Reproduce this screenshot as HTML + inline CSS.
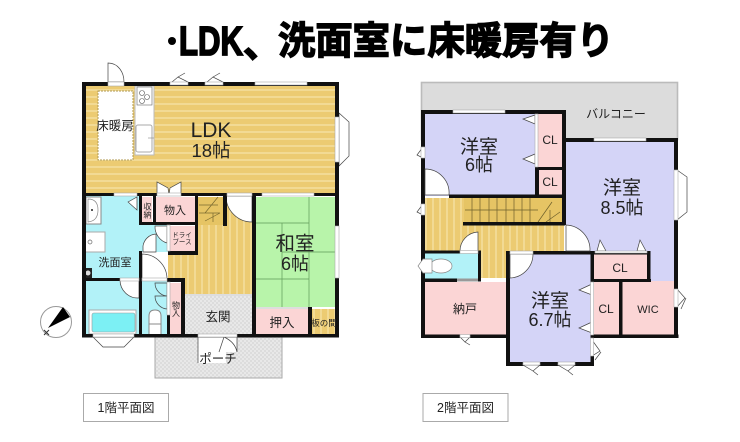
<!DOCTYPE html>
<html><head><meta charset="utf-8">
<style>
html,body{margin:0;padding:0;background:#fff;width:740px;height:442px;overflow:hidden}
svg{display:block}
text{font-family:"Liberation Sans","Noto Sans CJK JP",sans-serif;fill:#222;text-anchor:middle}
</style></head><body>
<svg width="740" height="442" viewBox="0 0 740 442" xmlns="http://www.w3.org/2000/svg">
<defs>
<pattern id="h" width="7" height="7" patternUnits="userSpaceOnUse"><rect width="7" height="7" fill="#eccb72"/><rect y="5" width="7" height="2" fill="#f2da94"/></pattern>
<pattern id="v" width="7" height="7" patternUnits="userSpaceOnUse"><rect width="7" height="7" fill="#eccb72"/><rect x="5" width="2" height="7" fill="#f2da94"/></pattern>
<pattern id="g" width="4" height="4" patternUnits="userSpaceOnUse"><rect width="4" height="4" fill="#dcdcdc"/><rect width="2" height="2" fill="#e8e8e8"/><rect x="2" y="2" width="2" height="2" fill="#e8e8e8"/></pattern>
</defs>

<!-- title -->
<circle cx="172" cy="41" r="4" fill="#000"/>
<text x="211" y="55" font-size="41" textLength="64" lengthAdjust="spacingAndGlyphs" style="fill:#000;stroke:#000;stroke-width:1.8;font-weight:bold">LDK</text>
<text x="262" y="57" font-size="38" style="fill:#000;stroke:#000;stroke-width:1.6;font-weight:bold">、</text>
<text x="446" y="54" font-size="38" textLength="336" lengthAdjust="spacingAndGlyphs" style="fill:#000;stroke:#000;stroke-width:1.4;font-weight:bold">洗面室に床暖房有り</text>

<!-- ===== 1F ===== -->
<rect x="155" y="337" width="127" height="41" fill="url(#g)" stroke="#aaa"/>
<rect x="82" y="82" width="257" height="255" fill="#fff"/>
<rect x="84" y="84" width="253" height="111" fill="url(#h)"/>
<rect x="84" y="195" width="58" height="85" fill="#b2f2f8"/>
<rect x="140" y="222" width="30" height="30" fill="#b2f2f8"/>
<rect x="84" y="280" width="56" height="56" fill="#b2f2f8"/>
<rect x="142" y="280" width="26" height="56" fill="#b2f2f8"/>
<rect x="142" y="197" width="10" height="25" fill="#fbd5d5"/>
<rect x="156" y="197" width="39" height="25" fill="#fbd5d5"/>
<rect x="170" y="226" width="25" height="25" fill="#fbd5d5"/>
<rect x="170" y="283" width="11" height="53" fill="#fbd5d5"/>
<path d="M152 255H197V197H252V294H185V279H168V255Z" fill="url(#v)"/>
<rect x="198" y="197" width="27" height="28" fill="#e6c464"/>
<rect x="185" y="296" width="67" height="40" fill="url(#g)"/>
<rect x="256" y="197" width="80" height="110" fill="#b8f4aa"/>
<rect x="256" y="309" width="52" height="27" fill="#fbd5d5"/>
<rect x="312" y="309" width="24" height="27" fill="url(#v)"/>
<g stroke="#5f9a58" stroke-width=".7" fill="none">
<path d="M256 223H309M309 197V307M256 279H309M282 252H336M282 223V279M282 279V307"/>
</g>
<!-- kitchen + island -->
<rect x="98" y="91" width="35" height="69" fill="#fff" stroke="#b09a50" stroke-dasharray="2 1"/>
<rect x="135" y="86" width="19" height="69" fill="#fff" stroke="#bbb"/>
<rect x="137" y="87" width="15" height="18" fill="#fff" stroke="#666" stroke-width=".6"/>
<circle cx="142" cy="93" r="2.5" fill="#fff" stroke="#555" stroke-width=".6"/>
<circle cx="147" cy="97" r="2.5" fill="#fff" stroke="#555" stroke-width=".6"/>
<circle cx="142" cy="101" r="2.5" fill="#fff" stroke="#555" stroke-width=".6"/>
<rect x="136" y="125" width="16" height="27" rx="2" fill="#fff" stroke="#aaa"/>
<path d="M148 138H154" stroke="#888" stroke-width=".6"/>
<!-- washroom fixtures -->
<path d="M86 197H101V224H86Z" fill="#fff" stroke="#888"/>
<path d="M88 199Q98 199 98 210Q98 221 88 222Z" fill="#fff" stroke="#888" stroke-width=".7"/>
<circle cx="92" cy="210" r="1" fill="#222"/>
<rect x="85" y="232" width="20" height="20" fill="#fff" stroke="#aaa"/>
<circle cx="90" cy="242" r="2" fill="#fff" stroke="#666" stroke-width=".7"/>
<rect x="84" y="268" width="8" height="10" fill="#222"/>
<circle cx="88" cy="273" r="2.5" fill="#ddd"/>
<!-- bath -->
<rect x="89" y="310" width="47" height="24" fill="#fff" stroke="#aaa"/>
<rect x="92" y="313" width="43" height="19" rx="2" fill="#7cf0f4" stroke="#999" stroke-width=".6"/>
<!-- toilet -->
<path d="M149 324V316Q149 310 155 310Q161 310 161 316V324Z" fill="#fff" stroke="#888"/>
<rect x="149" y="324" width="12" height="11" fill="#fff" stroke="#888"/>
<!-- doors 1F -->
<g fill="#fff" stroke="#444" stroke-width=".7">
<path d="M252 196V222A26 26 0 0 1 226 196Z"/>
<path d="M142 254A25 25 0 0 1 167 279H142Z"/>
<path d="M143 252V246A14 14 0 0 1 156 234V252Z"/>
<path d="M155 226H167V243A17 17 0 0 1 155 226Z"/>
<path d="M120 280A18 18 0 0 0 139 298V280Z"/>
<path d="M167 283V296A13 13 0 0 1 155 283Z" fill="#b2f2f8"/>
<path d="M167 296V309A13 13 0 0 1 155 296Z" fill="#b2f2f8"/>
<path d="M198 337H237V352H226V363H198Z" stroke="none"/>
<path d="M198 337V363M237 337V352M224 337L219 352M224 337Q235 342 237 352" fill="none"/>
<path d="M157 195V182L168 188L169 195ZM181 195V182L170 188L169 195Z"/>
<path d="M108 82V63C118 63 124 72 124 82Z"/>
<path d="M172 82L178 77L188 82V84H170Z"/>
<path d="M207 82L213 77L223 82V84H205Z"/>
<path d="M178 77L185 73M213 77L220 73" fill="none"/>
<path d="M339 113L349 122V156L339 166Z"/>
<path d="M93 337L103 347H124L134 337Z"/>
<path d="M128 202L137 197V210Z"/>
</g>
<!-- stairs lines -->
<g stroke="#7a6a30" stroke-width=".7" fill="none"><path d="M199 205H218M199 213H220L205 221M213 213V222M218 197L205 213"/></g>
<!-- walls 1F -->
<g fill="#111">
<rect x="82" y="82" width="257" height="4"/>
<rect x="82" y="82" width="4" height="255"/>
<rect x="335" y="82" width="4" height="255"/>
<rect x="82" y="334" width="257" height="3.5"/>
<rect x="82" y="193" width="257" height="3"/>
<rect x="139" y="194" width="3" height="29"/>
<rect x="153" y="194" width="3" height="29"/>
<rect x="139" y="222" width="59" height="3"/>
<rect x="195" y="194" width="3" height="61"/>
<rect x="223" y="194" width="4" height="32"/>
<rect x="168" y="251" width="30" height="4"/>
<rect x="139" y="251" width="3" height="86"/>
<rect x="82" y="278" width="58" height="3"/>
<rect x="167" y="278" width="18" height="4"/>
<rect x="167" y="315" width="3" height="22"/>
<rect x="181" y="278" width="4" height="59"/>
<rect x="252" y="194" width="4" height="143"/>
<rect x="308" y="307" width="4" height="30"/>
</g>
<rect x="185" y="294" width="67" height="2" fill="#ddd"/>
<rect x="256" y="307" width="52" height="2" fill="#ddd"/>
<g fill="#fff" stroke="#aaa" stroke-width=".6">
<rect x="255" y="82" width="52" height="3"/><rect x="170" y="82" width="18" height="3"/><rect x="205" y="82" width="18" height="3"/>
<rect x="108" y="82" width="16" height="4"/>
<rect x="114" y="193" width="23" height="3"/>
<rect x="157" y="193" width="24" height="3"/>
<rect x="227" y="193" width="25" height="3"/>
<rect x="262" y="193" width="52" height="3"/>
<rect x="335" y="117" width="4" height="45"/>
<rect x="335" y="226" width="4" height="52"/>
<rect x="93" y="334" width="41" height="3"/>
<rect x="198" y="334" width="39" height="3"/>
<rect x="120" y="278" width="19" height="3"/>
<rect x="142" y="278" width="25" height="3"/>
<rect x="167" y="282" width="3" height="33"/>
<rect x="167" y="225" width="3" height="26"/>
</g>

<text x="115" y="130" font-size="12.5">床暖房</text>
<text x="211" y="137" font-size="21">LDK</text>
<text x="211" y="157" font-size="18.5">18帖</text>
<text x="147.5" y="210.5" font-size="8" style="writing-mode:vertical-rl">収納</text>
<text x="175" y="214" font-size="11">物入</text>
<text x="182" y="237" font-size="6.5">ドライ</text>
<text x="182" y="244" font-size="6.5">ブース</text>
<text x="115" y="266" font-size="11">洗面室</text>
<text x="176" y="309" font-size="8" style="writing-mode:vertical-rl">物入</text>
<text x="218" y="321" font-size="12.5">玄関</text>
<text x="218" y="363" font-size="12.5">ポーチ</text>
<text x="295" y="250" font-size="19.5">和室</text>
<text x="295" y="270" font-size="18">6帖</text>
<text x="282" y="327" font-size="12.5">押入</text>
<text x="324" y="326" font-size="8.5">板の間</text>

<!-- compass -->
<circle cx="56" cy="322" r="15.5" fill="#fff" stroke="#999" stroke-width="1"/>
<path d="M48 328L63 307L70 317Z" fill="#000"/>
<path d="M44 330L49 335M49 330L44 335" stroke="#333" stroke-width="1"/>

<!-- ===== 2F ===== -->
<rect x="421.5" y="82.5" width="256" height="57" fill="#dcdcdc" stroke="#bbb" stroke-width="1.6"/>
<rect x="424" y="113" width="111" height="83" fill="#d4d4f7"/>
<rect x="566" y="141" width="110" height="140" fill="#d4d4f7"/>
<rect x="538" y="113" width="25" height="55" fill="#fbd5d5"/>
<rect x="538" y="170" width="25" height="25" fill="#fbd5d5"/>
<rect x="425" y="198" width="139" height="54" fill="url(#v)"/>
<rect x="480" y="250" width="28" height="30" fill="url(#v)"/>
<rect x="464" y="198" width="99" height="25" fill="#e6c464"/>
<rect x="424" y="253" width="54" height="26" fill="#b2f2f8"/>
<rect x="425" y="282" width="82" height="53" fill="#fbd5d5"/>
<rect x="509" y="254" width="82" height="110" fill="#d4d4f7"/>
<rect x="594" y="254" width="54" height="26" fill="#fbd5d5"/>
<rect x="594" y="282" width="25" height="53" fill="#fbd5d5"/>
<rect x="622" y="281" width="54" height="54" fill="#fbd5d5"/>
<g stroke="#6d5f2b" stroke-width=".7" fill="none">
<path d="M472 198V222M480 198V222M489 198V222M497 198V222M506 198V222M514 198V222M522 198V222M530 198V222M465 210H538M538 222L552 202M546 222L560 212M550 210V222"/>
</g>
<!-- walls 2F -->
<g fill="#111">
<rect x="421" y="110" width="144" height="4"/>
<rect x="421" y="110" width="4" height="227"/>
<rect x="562" y="110" width="4" height="115"/>
<rect x="535" y="167" width="4" height="30"/>
<rect x="535" y="167" width="30" height="3"/>
<rect x="449" y="194.5" width="116" height="3.5"/>
<rect x="463" y="222" width="102" height="3.5"/>
<rect x="564" y="138" width="114" height="4"/>
<rect x="674" y="138" width="4" height="200"/>
<rect x="421" y="250.5" width="60" height="3"/>
<rect x="478" y="250.5" width="3" height="31"/>
<rect x="421" y="278.5" width="36" height="3.5"/>
<rect x="421" y="334.5" width="87" height="3.5"/>
<rect x="506" y="251" width="4" height="115"/>
<rect x="506" y="251" width="144" height="3.5"/>
<rect x="590.5" y="251" width="3.5" height="31"/>
<rect x="647" y="251" width="3.5" height="31"/>
<rect x="591" y="279" width="60" height="3"/>
<rect x="619" y="279" width="3.5" height="59"/>
<rect x="590.5" y="334.5" width="88" height="3.5"/>
<rect x="590.5" y="356" width="3.5" height="10"/>
<rect x="506" y="362" width="88" height="4"/>
</g>
<rect x="457" y="278.5" width="21" height="3" fill="#999"/>
<rect x="481" y="278" width="25" height="2.5" fill="#fff"/>
<!-- 2F doors -->
<g fill="#fff" stroke="#444" stroke-width=".7">
<path d="M425 169A24 24 0 0 1 449 195H425Z"/>
<path d="M566 225A25 25 0 0 1 590 251H566Z"/>
<path d="M478 232V251H460A19 19 0 0 1 478 232Z"/>
<path d="M510 254H533A24 24 0 0 1 510 278Z"/>
<path d="M535 115L523 119L535 124Z"/>
<path d="M535 154L523 159L535 164Z"/>
<path d="M592 284L579 290L592 295Z"/>
<path d="M592 322L579 328L592 333Z"/>
<path d="M592 340V356L600 351Z"/>
<path d="M677 289V307L685 298Z"/>
<path d="M677 170L687 177V212L677 220Z"/>
<path d="M597 251L600 240L606 251Z"/>
<path d="M637 251L640 240L646 251Z"/>
<path d="M423 147L417 155L423 158Z"/>
<path d="M423 204L417 212L423 215Z"/>
<path d="M460 337H470L465 342Z"/>
<path d="M523 365L540 365L533 371Z"/>
<path d="M558 365L575 365L568 371Z"/>
<path d="M686 298L681 309M601 352L595 360M533 371L538 375M568 371L573 375M465 342L470 345" fill="none"/>
</g>
<!-- 2F windows -->
<g fill="#fff" stroke="#aaa" stroke-width=".6">
<rect x="453" y="110" width="52" height="3"/>
<rect x="594" y="138" width="52" height="3"/>
<rect x="674" y="170" width="4" height="50"/>
<rect x="421" y="147" width="4" height="11"/>
<rect x="421" y="204" width="4" height="11"/>
<rect x="510" y="251" width="23" height="3"/>
<rect x="460" y="250.5" width="18" height="3"/>
<rect x="590.5" y="282" width="3" height="53"/>
<rect x="590.5" y="338" width="3" height="18"/>
<rect x="674" y="289" width="4" height="18"/>
<rect x="595" y="251" width="52" height="2"/>
<rect x="523" y="362" width="17" height="3"/>
<rect x="558" y="362" width="17" height="3"/>
<rect x="460" y="334.5" width="10" height="3"/>
<rect x="535" y="114" width="3" height="53"/>
</g>
<ellipse cx="441" cy="266" rx="11" ry="7" fill="#fff" stroke="#888" stroke-width=".7"/>
<path d="M432 259H423L418 266L423 273H432Z" fill="#fff" stroke="#888" stroke-width=".7"/>

<text x="479" y="153" font-size="19">洋室</text>
<text x="479" y="171" font-size="18">6帖</text>
<text x="550" y="144" font-size="12">CL</text>
<text x="550" y="186" font-size="12">CL</text>
<text x="616" y="118" font-size="12">バルコニー</text>
<text x="622" y="194" font-size="19">洋室</text>
<text x="622" y="214" font-size="18">8.5帖</text>
<text x="620" y="272" font-size="12">CL</text>
<text x="550" y="307" font-size="19">洋室</text>
<text x="550" y="326" font-size="18">6.7帖</text>
<text x="606" y="313" font-size="12">CL</text>
<text x="648" y="313" font-size="11">WIC</text>
<text x="465" y="313" font-size="12">納戸</text>

<!-- labels -->
<rect x="83.5" y="393.5" width="85" height="28" fill="#fff" stroke="#aaa"/>
<text x="126" y="412" font-size="12.5">1階平面図</text>
<rect x="423" y="393.5" width="85" height="28" fill="#fff" stroke="#aaa"/>
<text x="465.5" y="412" font-size="12.5">2階平面図</text>
</svg>
</body></html>
